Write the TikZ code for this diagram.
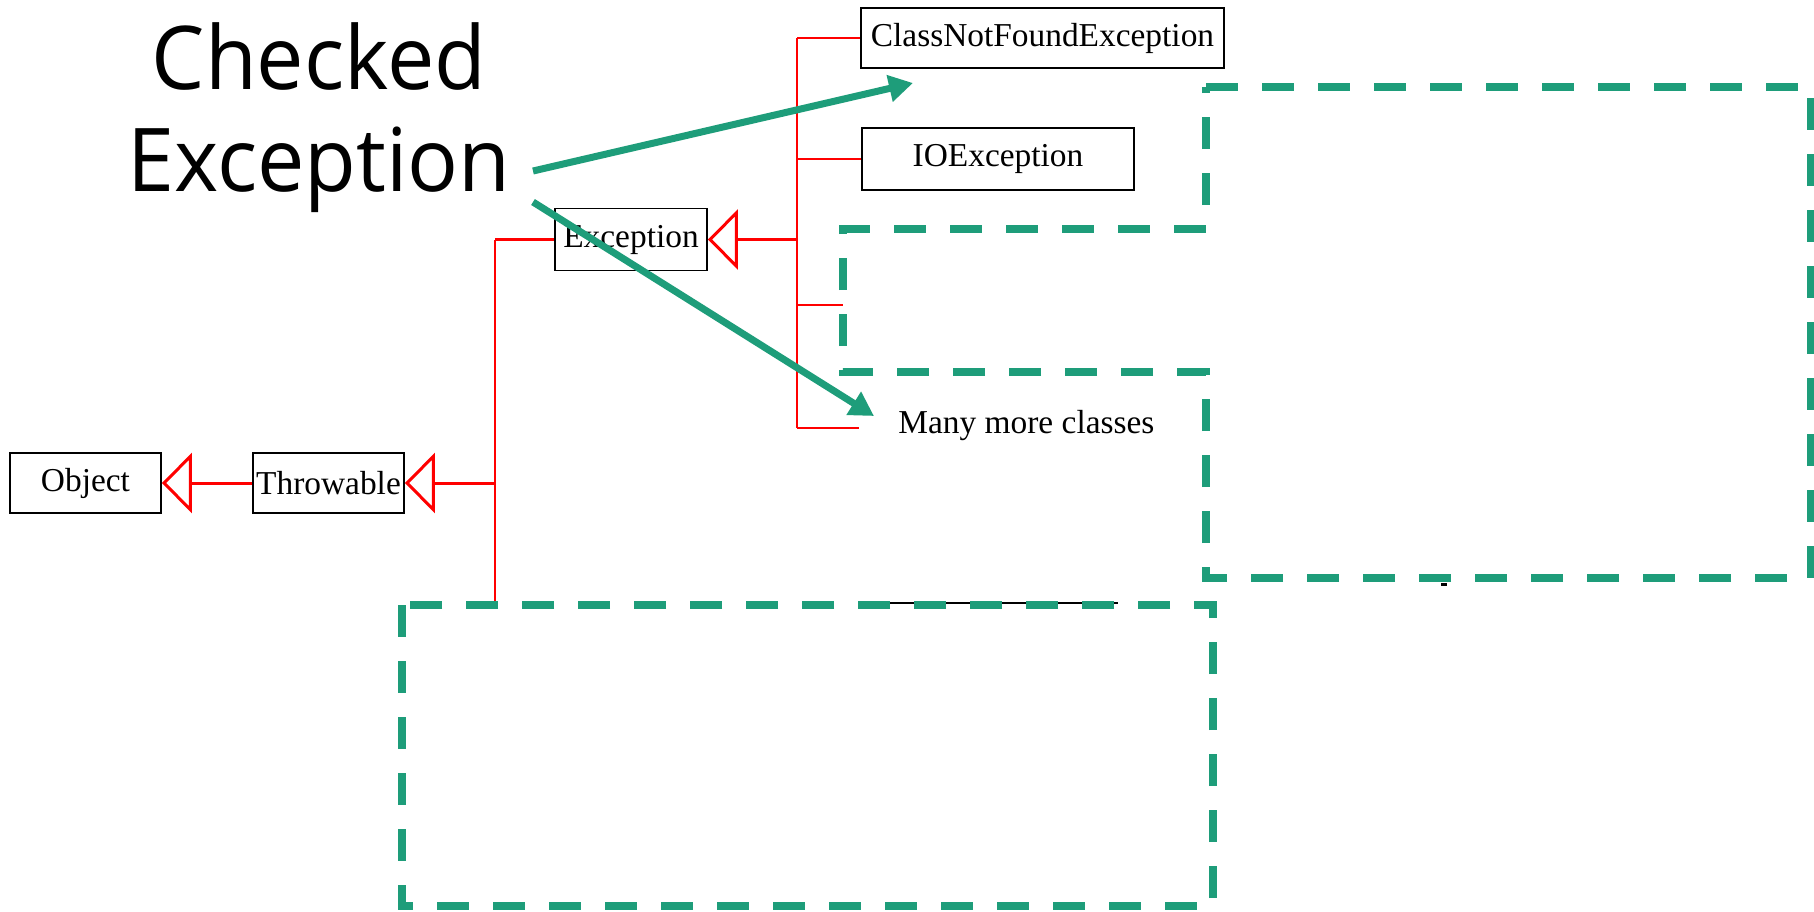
\documentclass[tikz,border=0pt]{standalone}
\usepackage{fontspec}
\usepackage{graphicx}
\setmainfont{Liberation Serif}
\newfontfamily\handfont{Open Sans}
\usetikzlibrary{arrows.meta}
\definecolor{hlgreen}{RGB}{30,157,122}
\begin{document}
\begin{tikzpicture}[x=0.5pt,y=-0.5pt,
  cls/.style={draw=black, line width=0.9pt, inner sep=0pt, font=\fontsize{16.7}{20}\selectfont, minimum height=30pt},
  inh/.style={red, line width=1.5pt, -{Triangle[open, length=15pt, width=30pt]}},
  redline/.style={red, line width=1.2pt},
  thinred/.style={red, line width=1pt},
  hl/.style={draw=hlgreen, line width=4pt, dash pattern=on 16pt off 12pt, fill=white},
  callout/.style={hlgreen, line width=3.5pt, -{Triangle[length=12pt, width=13pt]}}
]
\useasboundingbox (0,0) rectangle (1814,911);

% class boxes
\node[cls, minimum width=75.5pt] (object) at (85.5,483) {Object};
\node[cls, minimum width=75.5pt] (throwable) at (328.5,483) {Throwable};
\node[cls, minimum width=76pt, minimum height=31pt] (exception) at (631,239.5) {Exception};
\node[cls, minimum width=181.5pt] (cnf) at (1042.5,38) {ClassNotFoundException};
\node[cls, minimum width=136pt, minimum height=31pt] (ioe) at (998,159) {IOException};
\node[font=\fontsize{16.7}{20}\selectfont, anchor=base west, inner sep=0pt] (many) at (898,433) {Many more classes};

% junction coordinates
\coordinate (t1) at (495,483);
\coordinate (t1top) at (495,239.5);
\coordinate (t1bot) at (495,603);
\coordinate (t2) at (797,239.5);
\coordinate (t2top) at (797,38);
\coordinate (t2bot) at (797,428);
\coordinate (b2) at (797,159);
\coordinate (b3) at (797,305);
\coordinate (b3e) at (843,305);
\coordinate (b4e) at (859,428);

% inheritance tree
\draw[inh] (throwable.west) -- (object.east);
\draw[inh] (t1) -- (throwable.east);
\draw[redline] (t1top) -- (t1bot);
\draw[redline] (t1top) -- (exception.west);
\draw[inh] (t2) -- (exception.east);
\draw[redline] (t2top) -- (t2bot);
\draw[thinred] (t2top) -- (cnf.west);
\draw[thinred] (b2) -- (ioe.west);
\draw[thinred] (b3) -- (b3e);
\draw[thinred] (t2bot) -- (b4e);

% remnants under the covers
\coordinate (k1) at (869,603);
\coordinate (k2) at (1118,603);
\draw[black, line width=0.8pt] (k1) -- (k2);
\coordinate (d1) at (1441,584);
\coordinate (d2) at (1447,584);
\draw[black, line width=1.5pt] (d1) -- (d2);

% dashed cover shapes
\draw[hl] (1206,87) -- (1811,87) -- (1811,578) -- (1206,578) -- (1206,372)
  -- (843,372) -- (843,229) -- (1206,229) -- cycle;
\draw[hl] (402,605) rectangle (1213,906);

% callout
\node[font=\handfont\fontsize{44}{51}\selectfont, align=center, inner sep=0pt] (title) at (319,118)
  {\scalebox{0.96}[1]{Checked}\\\scalebox{0.96}[1]{Exception}};
\coordinate (c1s) at (533,171);
\coordinate (c1e) at (913,83);
\coordinate (c2s) at (533,202);
\coordinate (c2e) at (874,416);
\draw[callout] (c1s) -- (c1e);
\draw[callout] (c2s) -- (c2e);
\end{tikzpicture}
\end{document}
